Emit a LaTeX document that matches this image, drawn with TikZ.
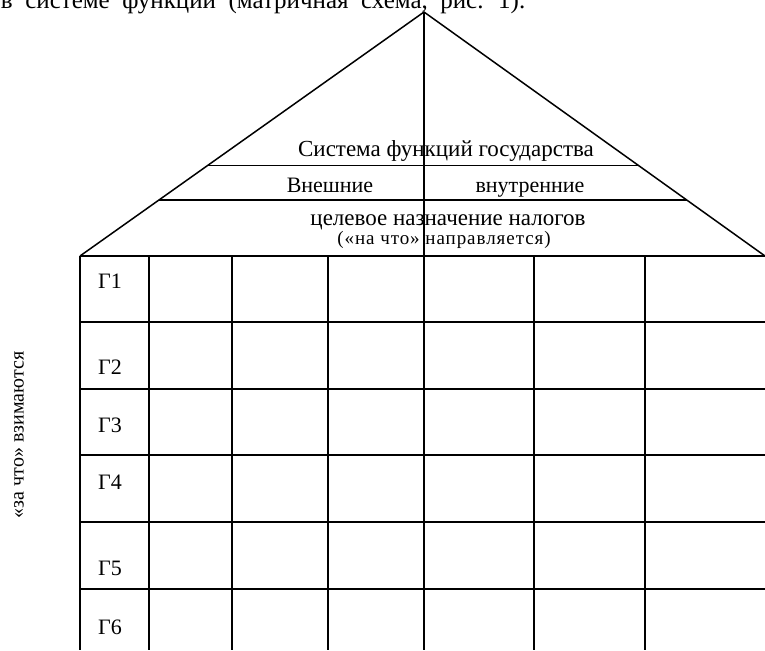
\documentclass[tikz,border=0pt]{standalone}
\usepackage{fontspec}
\setmainfont{Liberation Serif}
\usetikzlibrary{calc}
\begin{document}
\begin{tikzpicture}[
	x=1pt, y=-1pt, line width=1.5pt,
	lbl/.style={ inner sep=0pt, font=\fontsize{23}{25}\selectfont },
	lbls/.style={ inner sep=0pt, font=\fontsize{19}{21}\selectfont\addfontfeatures{LetterSpace=5} },
	rowlbl/.style={ inner sep=0pt, font=\fontsize{22}{24}\selectfont },
	sidelbl/.style={ inner sep=0pt, font=\fontsize{20}{22}\selectfont }
]
\useasboundingbox (0,0) rectangle (765,650);

\node at (526,9) (cap) [inner sep=0pt,anchor=base east,font=\fontsize{25}{27}\selectfont]
	{\spaceskip=0.5em\relax в системе функций (матричная схема, рис. 1).};

% roof
\coordinate (top) at (424,12);
\coordinate (bl) at (80,256);
\coordinate (br) at (765,256);
\coordinate (bot) at (424,650);
\draw (bl) -- (top) -- (br);
\draw (top) -- (bot);
\draw ($(bl)!0.37!(top)$) -- ($(br)!0.37!(top)$);
\draw ($(bl)!0.23!(top)$) -- ($(br)!0.23!(top)$);

\node at (446,157) (sys) [lbl,anchor=base] {Система функций государства};
\node at (330,192) (ext) [rowlbl,anchor=base] {Внешние};
\node at (530,192) (int) [rowlbl,anchor=base] {внутренние};
\node at (448,225) (aim) [lbl,anchor=base] {целевое назначение налогов};
\node at (444,244) (na) [lbls,anchor=base] {(«на что» направляется)};

% grid
\draw (bl) -- (br);
\draw (80,322) -- (765,322);
\draw (80,389) -- (765,389);
\draw (80,455) -- (765,455);
\draw (80,522) -- (765,522);
\draw (80,589) -- (765,589);
\draw (bl) -- (80,650);
\draw (149,256) -- (149,650);
\draw (232,256) -- (232,650);
\draw (328,256) -- (328,650);
\draw (534,256) -- (534,650);
\draw (645,256) -- (645,650);

\node at (110,288) (g1) [rowlbl,anchor=base] {Г1};
\node at (110,374) (g2) [rowlbl,anchor=base] {Г2};
\node at (110,432) (g3) [rowlbl,anchor=base] {Г3};
\node at (110,489) (g4) [rowlbl,anchor=base] {Г4};
\node at (110,575) (g5) [rowlbl,anchor=base] {Г5};
\node at (110,634) (g6) [rowlbl,anchor=base] {Г6};

\node at (19,435) (za) [sidelbl,rotate=90] {«за что» взимаются};

\end{tikzpicture}
\end{document}
